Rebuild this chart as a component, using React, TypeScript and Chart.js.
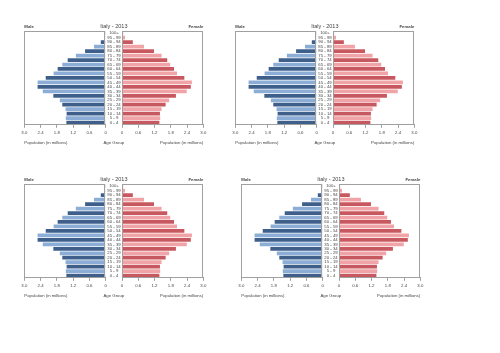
import React, { useEffect, useRef } from "react";
import { Chart, registerables } from "chart.js";

Chart.register(...registerables);

// ---- data ----
const AGE_GROUPS = [
  "0 - 4", "5 - 9", "10 - 14", "15 - 19", "20 - 24", "25 - 29", "30 - 34",
  "35 - 39", "40 - 44", "45 - 49", "50 - 54", "55 - 59", "60 - 64", "65 - 69",
  "70 - 74", "75 - 79", "80 - 84", "85 - 89", "90 - 94", "95 - 99", "100+",
];
const MALE = [1.45, 1.47, 1.44, 1.48, 1.6, 1.69, 1.93, 2.32, 2.51, 2.51, 2.21, 1.92, 1.77, 1.6, 1.4, 1.1, 0.76, 0.43, 0.18, 0.04, 0.01];
const FEMALE = [1.38, 1.41, 1.4, 1.46, 1.61, 1.74, 1.99, 2.39, 2.54, 2.58, 2.3, 2.03, 1.92, 1.78, 1.67, 1.46, 1.18, 0.81, 0.4, 0.11, 0.04];
const X_TICKS = [0, 0.6, 1.2, 1.8, 2.4, 3];
const TITLE = "Italy - 2013";
const MALE_LABEL = "Male";
const FEMALE_LABEL = "Female";
const X_TITLE = "Population (in millions)";
const Y_TITLE = "Age Group";

// ---- styles ----
const FONT = "'Liberation Sans', Arial, sans-serif";
const TEXT = "#444";
const FRAME = "#a0a0a0";
const M_DARK = "#3f5f8b";
const M_LIGHT = "#8cadd6";
const F_DARK = "#c8585f";
const F_LIGHT = "#f1a4a7";
const SMALL = 4.3;
const BIG = 5.5;
const TITLE_LH = 6;
const SUB_LH = 6;
const SUB_PAD_TOP = 3;

const frame = {
  id: "frame",
  afterDatasetsDraw(chart: any) {
    const { ctx, chartArea: a } = chart;
    ctx.save();
    ctx.strokeStyle = FRAME;
    ctx.lineWidth = 1;
    ctx.strokeRect(Math.round(a.left) + 0.5, Math.round(a.top) + 0.5, Math.round(a.width) - 1, Math.round(a.height) - 1);
    ctx.restore();
  },
};

const centerText = {
  id: "centerText",
  afterDraw(chart: any) {
    const y = chart.scales.y;
    const x = chart.scales.x;
    const ctx = chart.ctx;
    const cx = (y.left + y.right) / 2;
    ctx.save();
    ctx.fillStyle = TEXT;
    ctx.textAlign = "center";
    ctx.textBaseline = "middle";
    ctx.font = `${BIG}px ${FONT}`;
    ctx.fillText(TITLE, cx, chart.titleBlock.top + TITLE_LH / 2);
    ctx.font = `${SMALL}px ${FONT}`;
    ctx.fillText(Y_TITLE, cx, x.bottom + SUB_PAD_TOP + SUB_LH / 2);
    ctx.restore();
  },
};

function xScale(reverse: boolean) {
  return {
    type: "linear",
    reverse,
    min: 0,
    max: 3,
    afterBuildTicks: (s: any) => {
      s.ticks = X_TICKS.map((v) => ({ value: v }));
    },
    ticks: {
      font: { family: FONT, size: SMALL },
      color: TEXT,
      padding: 2,
      maxRotation: 0,
      autoSkip: false,
    },
    grid: { drawOnChartArea: false, drawTicks: true, tickLength: 3, color: FRAME },
    border: { color: FRAME },
  };
}

function titles(label: string, align: string) {
  return {
    legend: { display: false },
    tooltip: { enabled: false },
    title: {
      display: true,
      text: label,
      align,
      color: TEXT,
      font: { family: FONT, size: SMALL, lineHeight: `${TITLE_LH}px` },
      padding: { top: 0, bottom: 1.5 },
    },
    subtitle: {
      display: true,
      text: X_TITLE,
      position: "bottom",
      align,
      color: TEXT,
      font: { family: FONT, size: SMALL, lineHeight: `${SUB_LH}px` },
      padding: { top: SUB_PAD_TOP, bottom: 0 },
    },
  };
}

function Pyramid({ dx, dy }: { dx: number; dy: number }) {
  const mRef = useRef<HTMLCanvasElement>(null);
  const fRef = useRef<HTMLCanvasElement>(null);

  useEffect(() => {
    const male = new Chart(mRef.current as HTMLCanvasElement, {
      type: "bar",
      data: {
        labels: AGE_GROUPS,
        datasets: [
          {
            data: MALE,
            backgroundColor: (c: any) => (c.dataIndex % 2 === 0 ? M_DARK : M_LIGHT),
            barPercentage: 0.84,
            categoryPercentage: 1,
          },
        ],
      },
      options: {
        indexAxis: "y",
        animation: false,
        responsive: false,
        events: [],
        layout: { padding: { left: 10.3, right: 4.3, top: 3.5, bottom: 0 } },
        plugins: titles(MALE_LABEL, "start") as any,
        scales: {
          x: xScale(true) as any,
          y: { display: false, reverse: true },
        },
      },
      plugins: [frame],
    });
    const female = new Chart(fRef.current as HTMLCanvasElement, {
      type: "bar",
      data: {
        labels: AGE_GROUPS,
        datasets: [
          {
            data: FEMALE,
            backgroundColor: (c: any) => (c.dataIndex % 2 === 0 ? F_DARK : F_LIGHT),
            barPercentage: 0.84,
            categoryPercentage: 1,
          },
        ],
      },
      options: {
        indexAxis: "y",
        animation: false,
        responsive: false,
        events: [],
        layout: { padding: { left: 10.7, right: 11.7, top: 3.5, bottom: 0 } },
        plugins: titles(FEMALE_LABEL, "end") as any,
        scales: {
          x: xScale(false) as any,
          y: {
            position: "left",
            reverse: true,
            afterFit: (s: any) => {
              s.width = 16.3;
            },
            grid: { display: false, drawTicks: false },
            border: { display: false },
            ticks: {
              font: { family: FONT, size: SMALL },
              color: TEXT,
              padding: 1.3,
              crossAlign: "center",
              autoSkip: false,
            },
          },
        },
      },
      plugins: [frame, centerText],
    });
    return () => {
      male.destroy();
      female.destroy();
    };
  }, []);

  return (
    <>
      <canvas
        ref={mRef}
        width={96}
        height={126}
        style={{ position: "absolute", left: 14 + dx, top: 20 + dy, width: 96, height: 126 }}
      />
      <canvas
        ref={fRef}
        width={120}
        height={126}
        style={{ position: "absolute", left: 95 + dx, top: 20 + dy, width: 120, height: 126 }}
      />
    </>
  );
}

export default function App() {
  return (
    <div
      style={{
        position: "fixed",
        left: 0,
        top: 0,
        width: 500,
        height: 353,
        background: "#fff",
        overflow: "hidden",
      }}
    >
      <Pyramid dx={0} dy={0} />
      <Pyramid dx={211} dy={0} />
      <Pyramid dx={0} dy={153} />
      <Pyramid dx={217} dy={153} />
    </div>
  );
}
